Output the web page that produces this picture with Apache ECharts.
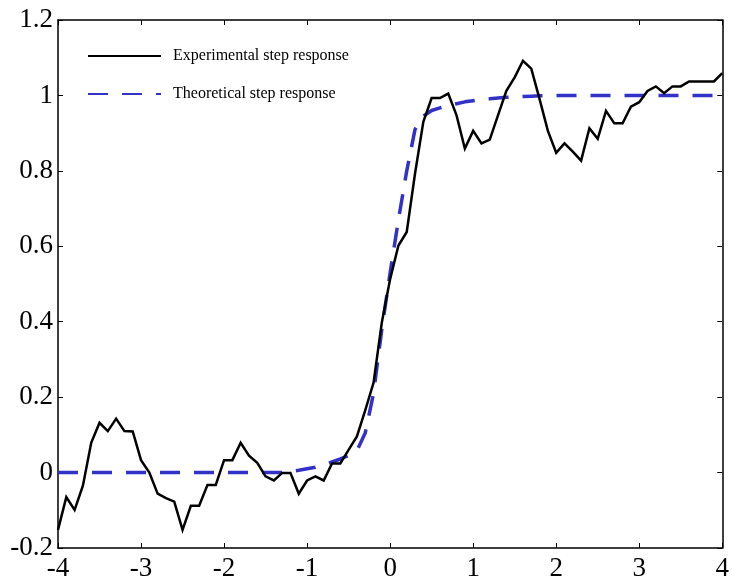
<!DOCTYPE html>
<html>
<head>
<meta charset="utf-8">
<title>Step response</title>
<script src="https://cdn.jsdelivr.net/npm/echarts@6/dist/echarts.min.js"></script>
<style>
  html, body { margin: 0; padding: 0; background: #ffffff; }
  #chart { width: 732px; height: 582px; }
</style>
</head>
<body>
<div id="chart"></div>
<script>
// Time axis samples (s), one every 0.1
const timeValues = [
  -4.0, -3.9, -3.8, -3.7, -3.6, -3.5, -3.4, -3.3, -3.2, -3.1,
  -3.0, -2.9, -2.8, -2.7, -2.6, -2.5, -2.4, -2.3, -2.2, -2.1,
  -2.0, -1.9, -1.8, -1.7, -1.6, -1.5, -1.4, -1.3, -1.2, -1.1,
  -1.0, -0.9, -0.8, -0.7, -0.6, -0.5, -0.4, -0.3, -0.2, -0.1,
   0.0,  0.1,  0.2,  0.3,  0.4,  0.5,  0.6,  0.7,  0.8,  0.9,
   1.0,  1.1,  1.2,  1.3,  1.4,  1.5,  1.6,  1.7,  1.8,  1.9,
   2.0,  2.1,  2.2,  2.3,  2.4,  2.5,  2.6,  2.7,  2.8,  2.9,
   3.0,  3.1,  3.2,  3.3,  3.4,  3.5,  3.6,  3.7,  3.8,  3.9,
   4.0
];

// Measured step response
const experimentalValues = [
  -0.152, -0.065, -0.099, -0.035, 0.079, 0.132, 0.110, 0.143, 0.110, 0.109,
   0.033,  0.000, -0.056, -0.068, -0.077, -0.152, -0.088, -0.088, -0.033, -0.033,
   0.033,  0.033,  0.079,  0.045,  0.026, -0.010, -0.021, -0.001, -0.001, -0.056,
  -0.021, -0.010, -0.021,  0.024,  0.024,  0.060,  0.096,  0.165,  0.238,  0.398,
   0.513,  0.602,  0.638,  0.793,  0.930,  0.993,  0.993,  1.005,  0.947,  0.859,
   0.906,  0.873,  0.883,  0.948,  1.012,  1.048,  1.092,  1.071,  0.990,  0.906,
   0.848,  0.873,  0.851,  0.827,  0.913,  0.885,  0.959,  0.926,  0.926,  0.970,
   0.982,  1.012,  1.024,  1.006,  1.024,  1.024,  1.037,  1.037,  1.037,  1.037,
   1.059
];

// Model step response
const theoreticalValues = [
  0, 0, 0, 0, 0, 0, 0, 0, 0, 0,
  0, 0, 0, 0, 0, 0, 0, 0, 0, 0,
  0, 0, 0, 0, 0, 0, 0, 0, 0.003, 0.006,
  0.010, 0.014, 0.020, 0.028, 0.036, 0.045, 0.058, 0.105, 0.210, 0.380,
  0.530, 0.670, 0.800, 0.910, 0.945, 0.960, 0.967, 0.973, 0.978, 0.983,
  0.986, 0.989, 0.991, 0.993, 0.995, 0.996, 0.997, 0.998, 0.999, 1.000,
  1, 1, 1, 1, 1, 1, 1, 1, 1, 1,
  1, 1, 1, 1, 1, 1, 1, 1, 1, 1,
  1
];

const seriesNames = ['Experimental step response', 'Theoretical step response'];

const pairs = (ys) => timeValues.map((t, i) => [t, ys[i]]);

const FONT = '"Liberation Serif", "DejaVu Serif", serif';

// Shared look for the four sides of the boxed frame
const frameAxis = () => ({
  axisLine: { show: true, onZero: false, lineStyle: { color: '#000', width: 1.5 } },
  axisTick: { show: true, inside: true, length: 5, lineStyle: { color: '#000', width: 1 } },
  splitLine: { show: false }
});

const chart = echarts.init(document.getElementById('chart'), null, { renderer: 'canvas' });

chart.setOption({
  animation: false,
  backgroundColor: '#ffffff',
  grid: { left: 58, right: 5, top: 20, bottom: 34, containLabel: false },
  legend: {
    orient: 'vertical',
    left: 87,
    top: 48,
    padding: 0,
    itemWidth: 73,
    itemHeight: 14,
    itemGap: 22,
    data: seriesNames,
    itemStyle: { color: 'rgba(0,0,0,0)', borderWidth: 0, opacity: 0 },
    textStyle: { fontFamily: FONT, fontSize: 16, color: '#000', padding: [0, 0, 0, 7] }
  },
  xAxis: [
    Object.assign({
      type: 'value', min: -4, max: 4, interval: 1, position: 'bottom',
      axisLabel: { show: true, color: '#000', fontFamily: FONT, fontSize: 27, margin: 7 }
    }, frameAxis()),
    Object.assign({
      type: 'value', min: -4, max: 4, interval: 1, position: 'top',
      axisLabel: { show: false }
    }, frameAxis())
  ],
  yAxis: [
    Object.assign({
      type: 'value', min: -0.2, max: 1.2, interval: 0.2, position: 'left',
      axisLabel: { show: true, color: '#000', fontFamily: FONT, fontSize: 27, margin: 5 }
    }, frameAxis()),
    Object.assign({
      type: 'value', min: -0.2, max: 1.2, interval: 0.2, position: 'right',
      axisLabel: { show: false }
    }, frameAxis())
  ],
  series: [
    {
      name: seriesNames[0],
      type: 'line',
      xAxisIndex: 0,
      yAxisIndex: 0,
      data: pairs(experimentalValues),
      showSymbol: false,
      symbol: 'none',
      lineStyle: { color: '#000000', width: 2.5, join: 'miter' },
      itemStyle: { color: '#000000' },
      z: 3
    },
    {
      name: seriesNames[1],
      type: 'line',
      xAxisIndex: 0,
      yAxisIndex: 0,
      data: pairs(theoreticalValues),
      showSymbol: false,
      symbol: 'none',
      lineStyle: { color: '#3232c8', width: 3.5, type: [20, 14], cap: 'butt' },
      itemStyle: { color: '#3232c8' },
      z: 2
    }
  ]
});
</script>
</body>
</html>
